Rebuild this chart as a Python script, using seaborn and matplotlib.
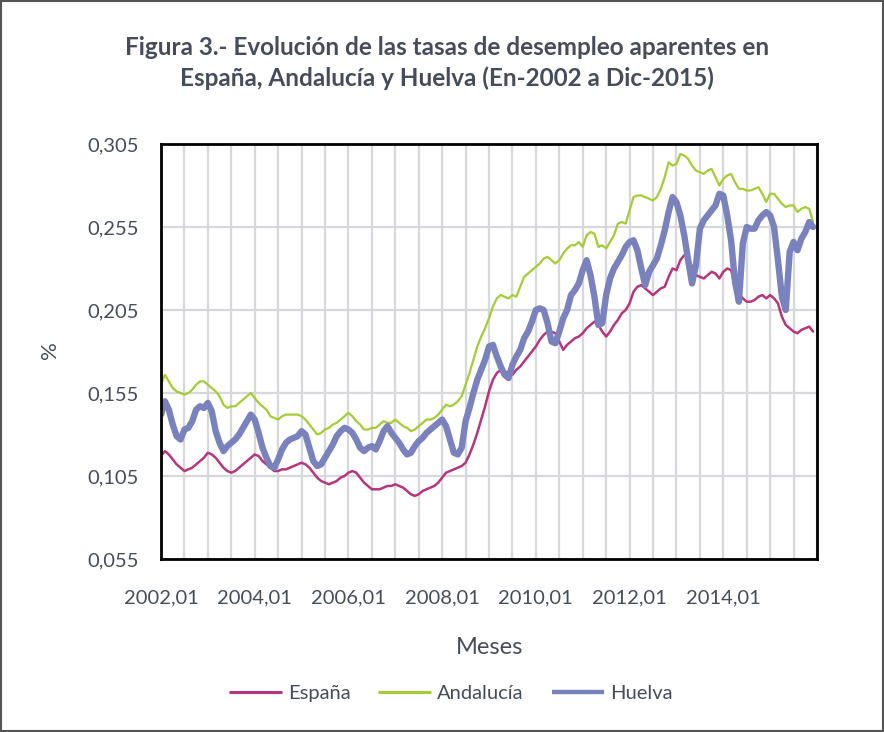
import numpy as np
import pandas as pd
import matplotlib
matplotlib.use("Agg")
import matplotlib.pyplot as plt
import seaborn as sns
from matplotlib.ticker import FuncFormatter

# monthly apparent unemployment rates, Jan-2002 .. Dec-2015
espana = [
    0.117, 0.120, 0.118, 0.115, 0.112, 0.110, 0.108, 0.109, 0.110, 0.112, 0.114, 0.116,
    0.119, 0.118, 0.116, 0.113, 0.110, 0.108, 0.107, 0.108, 0.110, 0.112, 0.114, 0.116,
    0.118, 0.117, 0.114, 0.112, 0.110, 0.108, 0.108, 0.109, 0.109, 0.110, 0.111, 0.112,
    0.113, 0.112, 0.110, 0.107, 0.104, 0.102, 0.101, 0.100, 0.101, 0.102, 0.104, 0.105,
    0.107, 0.108, 0.107, 0.104, 0.101, 0.099, 0.097, 0.097, 0.097, 0.098, 0.099, 0.099,
    0.100, 0.099, 0.098, 0.096, 0.094, 0.093, 0.094, 0.096, 0.097, 0.098, 0.099, 0.101,
    0.104, 0.107, 0.108, 0.109, 0.110, 0.111, 0.113, 0.118, 0.124, 0.131, 0.139, 0.147,
    0.156, 0.163, 0.167, 0.169, 0.168, 0.167, 0.166, 0.169, 0.171, 0.174, 0.177, 0.180,
    0.183, 0.187, 0.190, 0.192, 0.192, 0.191, 0.186, 0.181, 0.184, 0.186, 0.188, 0.189,
    0.191, 0.194, 0.196, 0.198, 0.196, 0.192, 0.189, 0.192, 0.196, 0.199, 0.203, 0.205,
    0.209, 0.216, 0.219, 0.220, 0.218, 0.216, 0.214, 0.216, 0.218, 0.219, 0.225, 0.230,
    0.229, 0.235, 0.238, 0.237, 0.231, 0.226, 0.225, 0.224, 0.226, 0.228, 0.227, 0.224,
    0.228, 0.230, 0.229, 0.220, 0.215, 0.212, 0.210, 0.210, 0.211, 0.213, 0.214, 0.212,
    0.214, 0.212, 0.209, 0.201, 0.196, 0.194, 0.192, 0.191, 0.193, 0.194, 0.195, 0.192,
]
andalucia = [
    0.160, 0.166, 0.162, 0.158, 0.156, 0.155, 0.154, 0.155, 0.157, 0.160, 0.162, 0.162,
    0.160, 0.158, 0.156, 0.153, 0.148, 0.146, 0.147, 0.147, 0.149, 0.151, 0.153, 0.155,
    0.152, 0.149, 0.147, 0.145, 0.141, 0.140, 0.139, 0.141, 0.142, 0.142, 0.142, 0.142,
    0.141, 0.139, 0.136, 0.133, 0.130, 0.131, 0.133, 0.134, 0.136, 0.137, 0.139, 0.141,
    0.143, 0.141, 0.138, 0.136, 0.133, 0.133, 0.134, 0.134, 0.136, 0.138, 0.137, 0.137,
    0.139, 0.137, 0.135, 0.134, 0.132, 0.133, 0.135, 0.137, 0.139, 0.139, 0.140, 0.142,
    0.145, 0.148, 0.147, 0.148, 0.150, 0.153, 0.160, 0.167, 0.175, 0.183, 0.189, 0.194,
    0.200, 0.207, 0.212, 0.214, 0.213, 0.212, 0.214, 0.213, 0.219, 0.225, 0.227, 0.229,
    0.231, 0.233, 0.236, 0.237, 0.235, 0.233, 0.235, 0.239, 0.242, 0.244, 0.244, 0.246,
    0.243, 0.250, 0.252, 0.251, 0.243, 0.244, 0.242, 0.246, 0.250, 0.257, 0.258, 0.257,
    0.265, 0.273, 0.274, 0.274, 0.273, 0.272, 0.271, 0.273, 0.278, 0.285, 0.294, 0.292,
    0.293, 0.299, 0.298, 0.296, 0.292, 0.289, 0.288, 0.287, 0.289, 0.290, 0.285, 0.280,
    0.284, 0.286, 0.287, 0.282, 0.278, 0.278, 0.277, 0.277, 0.278, 0.279, 0.275, 0.270,
    0.275, 0.275, 0.272, 0.269, 0.267, 0.268, 0.268, 0.264, 0.266, 0.267, 0.266, 0.258,
]
huelva = [
    0.142, 0.150, 0.145, 0.136, 0.129, 0.127, 0.133, 0.134, 0.138, 0.145, 0.147, 0.146,
    0.149, 0.144, 0.132, 0.125, 0.120, 0.123, 0.125, 0.127, 0.130, 0.134, 0.138, 0.142,
    0.139, 0.131, 0.122, 0.116, 0.111, 0.110, 0.115, 0.121, 0.125, 0.127, 0.128, 0.129,
    0.132, 0.130, 0.122, 0.114, 0.111, 0.112, 0.116, 0.120, 0.124, 0.129, 0.132, 0.134,
    0.133, 0.131, 0.127, 0.122, 0.120, 0.122, 0.123, 0.121, 0.126, 0.132, 0.135, 0.131,
    0.128, 0.125, 0.121, 0.118, 0.119, 0.123, 0.126, 0.128, 0.131, 0.133, 0.135, 0.137,
    0.139, 0.135, 0.127, 0.119, 0.118, 0.122, 0.138, 0.146, 0.155, 0.163, 0.169, 0.175,
    0.183, 0.184, 0.177, 0.171, 0.166, 0.164, 0.172, 0.177, 0.181, 0.188, 0.192, 0.198,
    0.205, 0.206, 0.205, 0.197, 0.186, 0.185, 0.192, 0.200, 0.205, 0.214, 0.217, 0.221,
    0.229, 0.235, 0.226, 0.213, 0.196, 0.197, 0.214, 0.224, 0.230, 0.234, 0.238, 0.243,
    0.246, 0.247, 0.241, 0.230, 0.220, 0.228, 0.232, 0.236, 0.244, 0.253, 0.264, 0.273,
    0.270, 0.262, 0.250, 0.235, 0.221, 0.232, 0.254, 0.259, 0.262, 0.265, 0.268, 0.275,
    0.274, 0.262, 0.247, 0.222, 0.210, 0.245, 0.255, 0.254, 0.254, 0.259, 0.262, 0.264,
    0.262, 0.255, 0.235, 0.213, 0.205, 0.240, 0.246, 0.241, 0.248, 0.252, 0.258, 0.255,
]
series_names = ["España", "Andalucía", "Huelva"]
series_colors = ["#B5367F", "#A5CC35", "#7A82BE"]
series_widths = [1.8, 1.6, 4.6]
legend_widths = [2.2, 2.2, 3.2]

months = pd.period_range("2002-01", "2015-12", freq="M")
tick_labels = [f"{p.year},{p.month:02d}" for p in months]

df = pd.DataFrame({
    "idx": np.arange(len(months)),
    "España": espana,
    "Andalucía": andalucia,
    "Huelva": huelva,
})

sns.set_theme(style="white")
plt.rcParams["font.family"] = ["Lato", "DejaVu Sans"]
text_col = "#454D5C"

fig = plt.figure(figsize=(8.84, 7.32), dpi=100)
ax = fig.add_axes([161 / 884, 1 - 559 / 732, 656 / 884, 415 / 732])

for name, col, lw in zip(series_names, series_colors, series_widths):
    sns.lineplot(data=df, x="idx", y=name, ax=ax, color=col, linewidth=lw,
                 label=name, solid_capstyle="round", solid_joinstyle="round")

ax.set_xlim(0, 168)
ax.set_ylim(0.055, 0.305)
ax.set_yticks(np.arange(0.055, 0.3051, 0.05))
ax.yaxis.set_major_formatter(FuncFormatter(lambda v, p: f"{v:.3f}".replace(".", ",")))

xt = list(range(0, 169, 6))
ax.set_xticks(xt)
ax.set_xticklabels([tick_labels[i] if (i % 24 == 0 and i < len(months)) else "" for i in xt])

ax.grid(True, color="#D6D8DC", linewidth=1.6)
ax.set_axisbelow(True)
for s in ax.spines.values():
    s.set_color("black")
    s.set_linewidth(2)
ax.tick_params(axis="x", direction="out", length=5, width=1.5, color="black",
               pad=17, labelsize=14.5, labelcolor=text_col)
ax.tick_params(axis="y", length=0, pad=16, labelsize=14.5, labelcolor=text_col)
ax.set_xlabel("")
ax.set_ylabel("")

fig.text(0.506, 0.935, "Figura 3.- Evolución de las tasas de desempleo aparentes en",
         ha="center", va="center", fontsize=17.5, fontweight="bold", color=text_col)
fig.text(0.506, 0.893, "España, Andalucía y Huelva (En-2002 a Dic-2015)",
         ha="center", va="center", fontsize=17.5, fontweight="bold", color=text_col)
fig.text(0.057, 0.522, "%", rotation=90, ha="center", va="center", fontsize=16, color=text_col)
fig.text(0.554, 0.115, "Meses", ha="center", va="center", fontsize=17, color=text_col)

ax.legend_.remove()
handles, labels = ax.get_legend_handles_labels()
leg = fig.legend(handles, labels, loc="center", bbox_to_anchor=(0.51, 0.053), ncol=3,
                 frameon=False, fontsize=14.5, handlelength=2.6, columnspacing=1.4,
                 handletextpad=0.3)
for t in leg.get_texts():
    t.set_color(text_col)
for h, lw in zip(leg.legend_handles, legend_widths):
    h.set_linewidth(lw)
    h.set_solid_capstyle("butt")

fig.patches.append(plt.Rectangle((0.001, 0.001), 0.998, 0.997, transform=fig.transFigure,
                                 fill=False, edgecolor="#555555", linewidth=1.5))

fig.savefig("out.png", dpi=100)
